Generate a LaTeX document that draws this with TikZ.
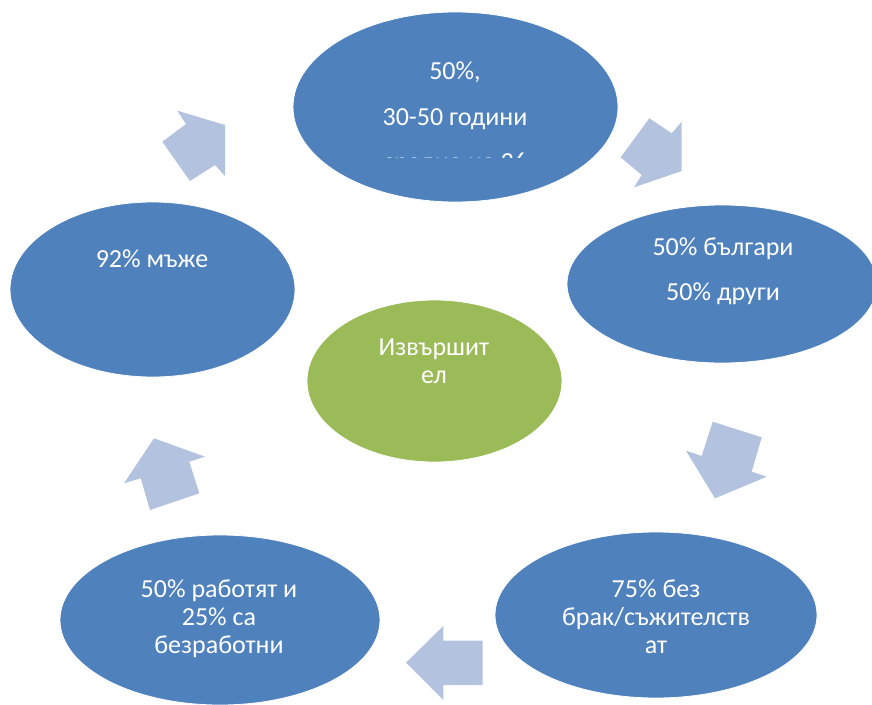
\documentclass[tikz,border=0pt]{standalone}
\usepackage{fontspec}
\setmainfont{Carlito}
\usepackage{xcolor}
\usepackage{tikz}
\usetikzlibrary{shapes.geometric}
\definecolor{smblue}{HTML}{4F81BD}
\definecolor{smgreen}{HTML}{9BBB59}
\definecolor{smarrow}{HTML}{B3C2DE}
\tikzstyle{bubble} = [ellipse, inner sep=0pt, fill=smblue, draw=white, line width=0.8pt]
\tikzstyle{core} = [ellipse, inner sep=0pt, fill=smgreen, draw=white, line width=0.8pt]
\tikzstyle{txt} = [anchor=base, text=white, inner sep=0pt, font=\fontsize{26}{31}\selectfont]
\tikzstyle{blockarrow} = [fill=smarrow]

\begin{document}
\begin{tikzpicture}[x=1pt, y=-1pt]
			\useasboundingbox (0,0) rectangle (872,704);
			\fill[white] (0,0) rectangle (872,704);
			
			% Nodes
			\node (top_ell) [bubble, minimum width=325pt, minimum height=190pt] at (455.5,107) {};
			\node (right_ell) [bubble, minimum width=310pt, minimum height=158pt] at (722,284) {};
			\node (left_ell) [bubble, minimum width=285pt, minimum height=175pt] at (152.5,289.5) {};
			\node (center_ell) [core, minimum width=255pt, minimum height=162pt] at (434.5,381) {};
			\node (botleft_ell) [bubble, minimum width=320pt, minimum height=170pt] at (220,620) {};
			\node (botright_ell) [bubble, minimum width=322pt, minimum height=166pt] at (656,615) {};
			
			% Texts
			\node (top_share) [txt] at (455,79) {50\%,};
			\node (top_age) [txt] at (455,125) {30-50 години};
			\begin{scope}
				\clip (290,0) rectangle (620,157.2);
				\node (top_mean) [txt] at (455,170) {средно на 36};
			\end{scope}
			\node (right_bg) [txt] at (723,255) {50\% българи};
			\node (right_other) [txt] at (723,300) {50\% други};
			\node (left_men) [txt] at (152,267) {92\% мъже};
			\node (center_a) [txt] at (434,355) {Извършит};
			\node (center_b) [txt] at (434,383) {ел};
			\node (botleft_a) [txt] at (219,597) {50\% работят и};
			\node (botleft_b) [txt] at (219,625) {25\% са};
			\node (botleft_c) [txt] at (219,653) {безработни};
			\node (botright_a) [txt] at (656,597) {75\% без};
			\node (botright_b) [txt] at (656,625) {брак/съжителств};
			\node (botright_c) [txt] at (656,653) {ат};
			
			% Arrows
			\fill [blockarrow] (177.3,110.7) -- (225,125) -- (225,176) -- (215,165) -- (190,181) -- (162.3,141.7) -- (186,124) -- cycle;
			\fill [blockarrow] (649.3,118.3) -- (671.7,133.3) -- (681.7,121.7) -- (681.7,171) -- (634,187.3) -- (641.7,175) -- (620.7,157.3) -- cycle;
			\fill [blockarrow] (712.7,421.7) -- (761.7,437.3) -- (751.7,471.7) -- (766.7,476.7) -- (715,498.3) -- (686,450.7) -- (701.7,456) -- cycle;
			\fill [blockarrow] (406,662.7) -- (443.3,626) -- (443.3,640.7) -- (482.7,640.7) -- (482.7,685) -- (443.3,685) -- (443.3,700) -- cycle;
			\fill [blockarrow] (154,438.3) -- (205,456.7) -- (189.3,461.7) -- (199.3,493.3) -- (150,510) -- (140.7,478.3) -- (124,483.3) -- cycle;
		\end{tikzpicture}
\end{document}
